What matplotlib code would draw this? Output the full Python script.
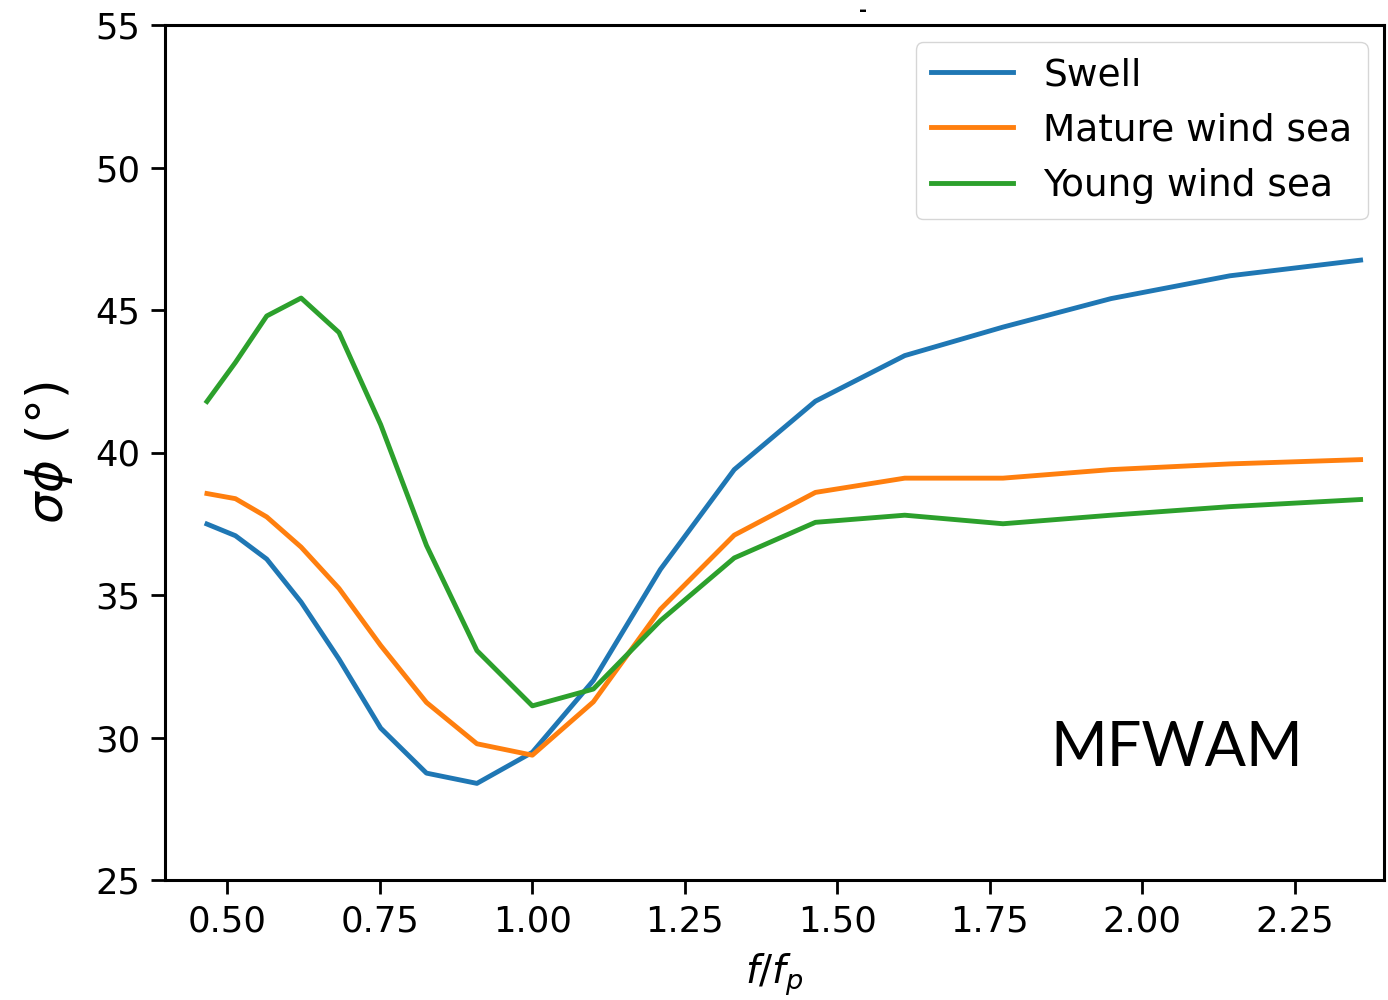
import matplotlib
matplotlib.use("Agg")
import matplotlib.pyplot as plt

# normalised frequency f/fp
f_ratio = [0.4665, 0.5132, 0.5645, 0.6209, 0.6830, 0.7513, 0.8264, 0.9091, 1.0,
           1.1, 1.21, 1.331, 1.4641, 1.6105, 1.7716, 1.9487, 2.1436, 2.3579]

# directional spread (deg)
swell = [37.49, 37.08, 36.26, 34.75, 32.75, 30.33, 28.75, 28.39, 29.48,
         32.0, 35.9, 39.4, 41.8, 43.4, 44.4, 45.4, 46.2, 46.75]
mature = [38.56, 38.38, 37.74, 36.68, 35.23, 33.23, 31.23, 29.78, 29.38,
          31.25, 34.5, 37.1, 38.6, 39.1, 39.1, 39.4, 39.6, 39.75]
young = [41.79, 43.16, 44.79, 45.42, 44.21, 40.98, 36.74, 33.05, 31.11,
         31.7, 34.1, 36.3, 37.55, 37.8, 37.5, 37.8, 38.1, 38.35]

fig = plt.figure(figsize=(13.88, 10), dpi=100)
ax = fig.add_axes([0.119, 0.12, 0.878, 0.855])

ax.plot(f_ratio, swell, color='#1f77b4', lw=3.5, label='Swell')
ax.plot(f_ratio, mature, color='#ff7f0e', lw=3.5, label='Mature wind sea')
ax.plot(f_ratio, young, color='#2ca02c', lw=3.5, label='Young wind sea')

ax.set_xlim(0.398, 2.396)
ax.set_ylim(25, 55)
ax.set_xticks([0.5, 0.75, 1.0, 1.25, 1.5, 1.75, 2.0, 2.25])
ax.set_yticks([25, 30, 35, 40, 45, 50, 55])
ax.tick_params(labelsize=25.5, length=10, width=2, pad=8)
for s in ax.spines.values():
    s.set_linewidth(2.2)

ax.set_xlabel('$f/f_p$', fontsize=28, labelpad=9)
ax.set_ylabel(r'$\sigma\phi$ (°)', fontsize=36, labelpad=14)

leg = ax.legend(loc='upper right', fontsize=27, handlelength=2.2,
                borderpad=0.4, labelspacing=0.52, handletextpad=0.8,
                bbox_to_anchor=(1.002, 1.002))
for h in leg.get_lines():
    h.set_linewidth(3.5)

ax.text(0.830, 0.154, 'MFWAM', transform=ax.transAxes, fontsize=44,
        family='Lato', ha='center', va='center')

fig.text(0.622, 0.99, '-', fontsize=14, fontweight='bold', ha='center', va='center')

fig.savefig('out.png', dpi=100)
